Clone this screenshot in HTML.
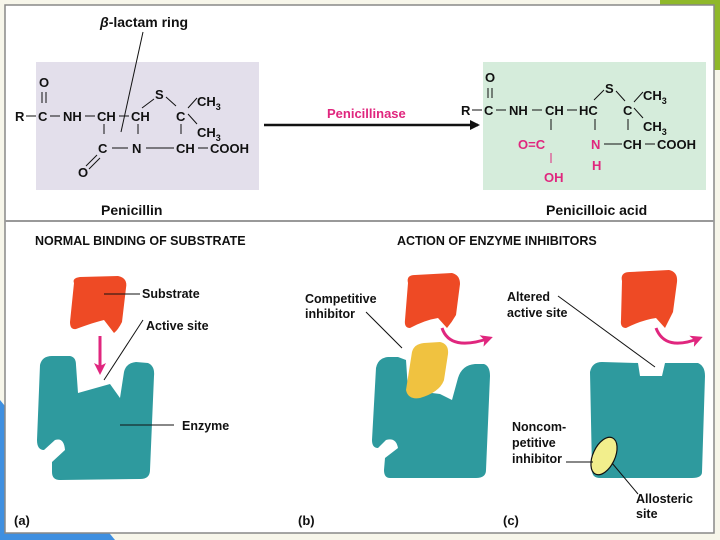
<!DOCTYPE html>
<html><head><style>
body{margin:0;width:720px;height:540px;overflow:hidden;background:#f7f6ea;}
svg{display:block}
text{font-family:"Liberation Sans",sans-serif;font-weight:bold;fill:#111;}
</style></head><body>
<svg width="720" height="540" viewBox="0 0 720 540" xmlns="http://www.w3.org/2000/svg">
<defs>
<marker id="ah" markerWidth="10" markerHeight="10" refX="8" refY="5" orient="auto" markerUnits="userSpaceOnUse"><path d="M0,0 L10,5 L0,10 Z" fill="#111"/></marker>
<marker id="pk" markerWidth="12" markerHeight="12" refX="9" refY="6" orient="auto" markerUnits="userSpaceOnUse"><path d="M0,0 L12,6 L0,12 L3,6 Z" fill="#e0267e"/></marker>
</defs>
<rect width="720" height="540" fill="#f7f6ea"/>
<path d="M620,0 L720,0 L720,60 L690,0 Z" fill="#8fb82a"/>
<rect x="660" y="0" width="60" height="70" fill="#8fb82a"/>
<path d="M0,400 L115,540 L0,540 Z" fill="#3f8fe0"/>
<rect x="5" y="5" width="709" height="528" fill="#fff" stroke="#888" stroke-width="1.5"/>
<line x1="5" y1="221" x2="714" y2="221" stroke="#999" stroke-width="2"/>

<rect x="36" y="62" width="223" height="128" fill="#e3dfeb"/>
<rect x="483" y="62" width="223" height="128" fill="#d5ecdb"/>

<g font-size="13">
<text x="100" y="27" font-size="14"><tspan font-style="italic">β</tspan>-lactam ring</text>
<line x1="143" y1="32" x2="121" y2="132" stroke="#111" stroke-width="1"/>
<text x="39" y="87">O</text>
<line x1="42" y1="92" x2="42" y2="103" stroke="#111"/><line x1="46" y1="92" x2="46" y2="103" stroke="#111"/>
<text x="15" y="121">R</text><line x1="26" y1="116" x2="36" y2="116" stroke="#111"/>
<text x="38" y="121">C</text><line x1="50" y1="116" x2="60" y2="116" stroke="#111"/>
<text x="63" y="121">NH</text><line x1="85" y1="116" x2="95" y2="116" stroke="#111"/>
<text x="97" y="121">CH</text><line x1="119" y1="116" x2="129" y2="116" stroke="#111"/>
<text x="131" y="121">CH</text>
<text x="155" y="99">S</text>
<line x1="142" y1="108" x2="154" y2="99" stroke="#111"/><line x1="166" y1="97" x2="176" y2="106" stroke="#111"/>
<text x="176" y="121">C</text>
<text x="197" y="106">CH<tspan font-size="9" dy="4">3</tspan></text>
<text x="197" y="137">CH<tspan font-size="9" dy="4">3</tspan></text>
<line x1="188" y1="108" x2="197" y2="98" stroke="#111"/><line x1="188" y1="114" x2="197" y2="124" stroke="#111"/>
<line x1="104" y1="124" x2="104" y2="134" stroke="#111"/>
<line x1="138" y1="124" x2="138" y2="134" stroke="#111"/>
<line x1="181" y1="124" x2="181" y2="134" stroke="#111"/>
<text x="98" y="153">C</text><line x1="112" y1="148" x2="128" y2="148" stroke="#111"/>
<text x="132" y="153">N</text><line x1="146" y1="148" x2="174" y2="148" stroke="#111"/>
<text x="176" y="153">CH</text><line x1="198" y1="148" x2="208" y2="148" stroke="#111"/>
<text x="210" y="153">COOH</text>
<line x1="86" y1="166" x2="97" y2="155" stroke="#111"/><line x1="89" y1="169" x2="100" y2="158" stroke="#111"/>
<text x="78" y="177">O</text>
<text x="101" y="215" font-size="14">Penicillin</text>
</g>

<line x1="264" y1="125" x2="478" y2="125" stroke="#111" stroke-width="2.5" marker-end="url(#ah)"/>
<text x="327" y="118" font-size="13" style="fill:#e0267e">Penicillinase</text>

<g font-size="13">
<text x="485" y="82">O</text>
<line x1="488" y1="88" x2="488" y2="98" stroke="#111"/><line x1="492" y1="88" x2="492" y2="98" stroke="#111"/>
<text x="461" y="115">R</text><line x1="472" y1="110" x2="482" y2="110" stroke="#111"/>
<text x="484" y="115">C</text><line x1="496" y1="110" x2="506" y2="110" stroke="#111"/>
<text x="509" y="115">NH</text><line x1="532" y1="110" x2="542" y2="110" stroke="#111"/>
<text x="545" y="115">CH</text><line x1="567" y1="110" x2="577" y2="110" stroke="#111"/>
<text x="579" y="115">HC</text>
<text x="605" y="93">S</text>
<line x1="594" y1="100" x2="604" y2="90" stroke="#111"/><line x1="616" y1="91" x2="625" y2="101" stroke="#111"/>
<text x="623" y="115">C</text>
<text x="643" y="100">CH<tspan font-size="9" dy="4">3</tspan></text>
<text x="643" y="131">CH<tspan font-size="9" dy="4">3</tspan></text>
<line x1="634" y1="102" x2="643" y2="92" stroke="#111"/><line x1="634" y1="108" x2="643" y2="118" stroke="#111"/>
<line x1="551" y1="119" x2="551" y2="130" stroke="#111"/>
<line x1="595" y1="119" x2="595" y2="130" stroke="#111"/>
<line x1="628" y1="119" x2="628" y2="130" stroke="#111"/>
<text x="518" y="149" style="fill:#e0267e">O=C</text>
<text x="591" y="149" style="fill:#e0267e">N</text><line x1="604" y1="144" x2="622" y2="144" stroke="#111"/>
<text x="623" y="149">CH</text><line x1="645" y1="144" x2="655" y2="144" stroke="#111"/>
<text x="657" y="149">COOH</text>
<line x1="551" y1="153" x2="551" y2="163" stroke="#e0267e"/>
<text x="592" y="170" style="fill:#e0267e">H</text>
<text x="544" y="182" style="fill:#e0267e">OH</text>
<text x="546" y="215" font-size="14">Penicilloic acid</text>
</g>

<text x="35" y="245" font-size="12.5">NORMAL BINDING OF SUBSTRATE</text>
<text x="397" y="245" font-size="12.5">ACTION OF ENZYME INHIBITORS</text>

<!-- (a) -->
<path d="M74,283 Q72,278 80,277 L118,276 Q128,278 126,288 L122,322 Q118,330 114,333 L104,320 Q95,322 76,329 Q70,330 70,322 Z" fill="#ee4a25"/>
<path d="M40,365 Q42,356 52,356 L70,356 Q76,357 76,365 L78,393 L110,384 L120,398 L124,372 Q126,363 136,362 L148,363 Q155,366 154,376 L150,470 Q150,479 140,479 L60,480 Q52,480 52,472 L52,462 L65,450 Q64,437 55,440 L44,450 Q37,450 37,440 Z" fill="#2e9a9e"/>
<line x1="100" y1="336" x2="100" y2="372" stroke="#e0267e" stroke-width="3" marker-end="url(#pk)"/>
<line x1="104" y1="294" x2="140" y2="294" stroke="#111"/>
<text x="142" y="298" font-size="12.5">Substrate</text>
<line x1="104" y1="380" x2="143" y2="320" stroke="#111"/>
<text x="146" y="330" font-size="12.5">Active site</text>
<line x1="120" y1="425" x2="174" y2="425" stroke="#111"/>
<text x="182" y="430" font-size="12.5">Enzyme</text>
<text x="14" y="525" font-size="13">(a)</text>

<!-- (b) -->
<path d="M376,368 Q378,358 388,357 L398,357 L406,360 L408,390 L440,394 L452,400 L458,378 Q462,365 475,364 L484,364 Q490,366 490,376 L486,470 Q486,478 476,478 L390,478 Q384,478 384,470 L385,458 L398,448 Q396,437 386,440 L378,448 Q372,448 372,440 Z" fill="#2e9a9e"/>
<path d="M412,352 Q414,344 424,343 L440,342 Q449,344 448,354 L444,380 Q440,392 420,398 Q408,400 406,390 Z" fill="#f0c240"/>
<path d="M408,283 Q406,275 415,275 L452,273 Q460,275 460,284 L456,315 Q452,322 447,328 L438,318 Q425,320 410,328 Q404,328 405,320 Z" fill="#ee4a25"/>
<path d="M442,328 Q450,352 490,338" fill="none" stroke="#e0267e" stroke-width="3" marker-end="url(#pk)"/>
<text x="305" y="303" font-size="12.5">Competitive</text>
<text x="305" y="318" font-size="12.5">inhibitor</text>
<line x1="366" y1="312" x2="402" y2="348" stroke="#111"/>
<text x="298" y="525" font-size="13">(b)</text>

<!-- (c) -->
<path d="M590,372 Q592,362 602,362 L638,363 L640,376 L662,376 L665,363 L698,363 Q705,366 705,376 L702,472 Q702,478 692,478 L600,478 Q592,478 592,470 Z" fill="#2e9a9e"/>
<path d="M622,281 Q620,272 630,272 L669,270 Q678,272 677,282 L673,312 Q668,322 665,328 L656,318 Q642,320 626,328 Q620,328 621,320 Z" fill="#ee4a25"/>
<path d="M656,328 Q665,352 700,338" fill="none" stroke="#e0267e" stroke-width="3" marker-end="url(#pk)"/>
<ellipse cx="604" cy="456" rx="11" ry="20" transform="rotate(25 604 456)" fill="#f2ee8c" stroke="#111" stroke-width="1.2"/>
<text x="507" y="301" font-size="12.5">Altered</text>
<text x="507" y="317" font-size="12.5">active site</text>
<line x1="558" y1="296" x2="655" y2="367" stroke="#111"/>
<text x="512" y="431" font-size="12.5">Noncom-</text>
<text x="512" y="447" font-size="12.5">petitive</text>
<text x="512" y="463" font-size="12.5">inhibitor</text>
<line x1="566" y1="462" x2="593" y2="462" stroke="#111"/>
<line x1="612" y1="463" x2="638" y2="494" stroke="#111"/>
<text x="636" y="503" font-size="12.5">Allosteric</text>
<text x="636" y="518" font-size="12.5">site</text>
<text x="503" y="525" font-size="13">(c)</text>
</svg>
</body></html>
